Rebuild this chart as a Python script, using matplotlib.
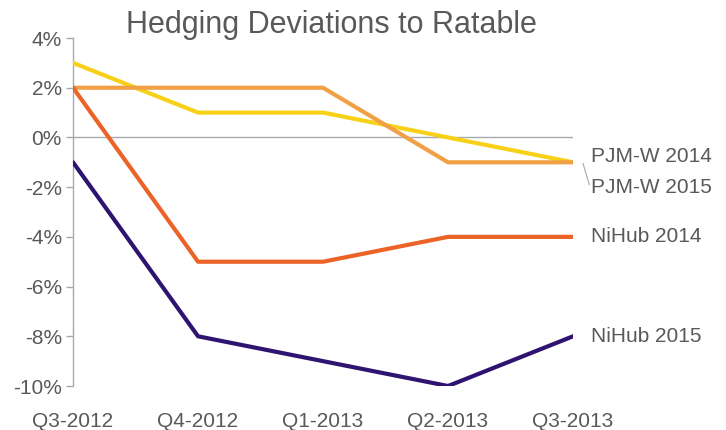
import numpy as np
import matplotlib.pyplot as plt

quarters = ["Q3-2012", "Q4-2012", "Q1-2013", "Q2-2013", "Q3-2013"]
pjm_2014 = [3, 1, 1, 0, -1]
pjm_2015 = [2, 2, 2, -1, -1]
nihub_2014 = [2, -5, -5, -4, -4]
nihub_2015 = [-1, -8, -9, -10, -8]

series = [
    ("PJM-W 2014", pjm_2014, "#f7d117"),
    ("PJM-W 2015", pjm_2015, "#f0a045"),
    ("NiHub 2014", nihub_2014, "#ec6328"),
    ("NiHub 2015", nihub_2015, "#2e1470"),
]

plt.rcParams['font.family'] = ['Liberation Sans', 'DejaVu Sans']
grey = "#595959"

fig = plt.figure(figsize=(7.26, 4.30), dpi=100)
ax = fig.add_axes([0.1006, 0.1023, 0.6887, 0.8093])

x = np.arange(len(quarters))
for name, vals, col in series:
    ax.plot(x, vals, color=col, lw=3.0, solid_capstyle="round", zorder=3)

ax.axhline(0, color="#a6aab0", lw=1, zorder=1)

ax.set_xlim(0, len(quarters) - 1)
ax.set_ylim(-10, 4)
ax.set_yticks(range(-10, 5, 2))
ax.set_yticklabels([f"{v}%" for v in range(-10, 5, 2)])
ax.set_xticks(x)
ax.set_xticklabels(quarters)

for s in ["top", "right", "bottom"]:
    ax.spines[s].set_visible(False)
ax.spines["left"].set_color("#a6aab0")
ax.spines["left"].set_linewidth(1)
ax.tick_params(axis="y", colors="#a6aab0", labelcolor=grey, labelsize=15,
               length=5, width=1, pad=3)
ax.tick_params(axis="x", length=0, labelcolor=grey, labelsize=15, pad=19)

fig.text(0.456, 0.943, "Hedging Deviations to Ratable", ha="center", va="center",
         fontsize=22, color=grey)

# series labels at the right end
label_y = {"PJM-W 2014": -0.75, "PJM-W 2015": -2.0, "NiHub 2014": -4.0, "NiHub 2015": -8.0}
for name, vals, col in series:
    ax.text(4.14, label_y[name], name, ha="left", va="center", fontsize=15,
            color=grey, clip_on=False)
ax.plot([4.08, 4.13], [-1.05, -1.9], color="#a6aab0", lw=0.8, clip_on=False)

fig.savefig("out.png", dpi=100, facecolor="white")
